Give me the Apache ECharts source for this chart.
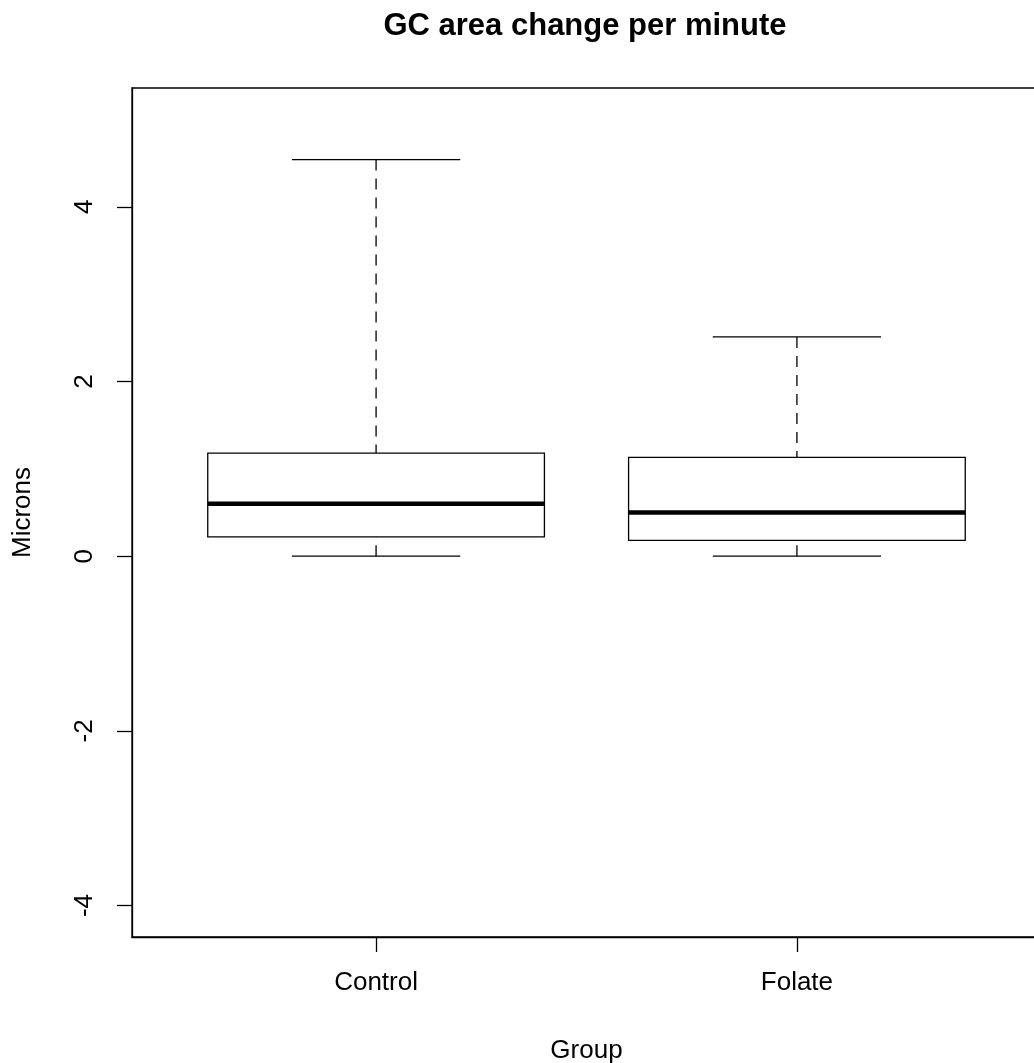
<!DOCTYPE html>
<html>
<head>
<meta charset="utf-8">
<title>GC area change per minute</title>
<script src="https://cdn.jsdelivr.net/npm/echarts@6.0.0/dist/echarts.min.js"></script>
<style>
  html, body { margin: 0; padding: 0; background: #fff; }
  #chart { width: 1034px; height: 1063px; }
</style>
</head>
<body>
<div id="chart"></div>
<script>
// box statistics
const groups = ["Control", "Folate"];
const whiskerLow = [0, 0];
const q1 = [0.22, 0.18];
const medians = [0.60, 0.50];
const q3 = [1.18, 1.13];
const whiskerHigh = [4.54, 2.51];
const yTicks = [-4, -2, 0, 2, 4];

const FONT = "Liberation Sans, Arial, sans-serif";

let boxData = groups.map(function (g, i) {
  return [i + 1, whiskerLow[i], q1[i], medians[i], q3[i], whiskerHigh[i]];
});

// draws one R style box: box, thick median, dashed whiskers, caps
function renderBox(params, api) {
  let x = api.value(0);
  let cx = api.coord([x, 0])[0];
  let left = api.coord([x - 0.4, 0])[0];
  let right = api.coord([x + 0.4, 0])[0];
  let capL = api.coord([x - 0.2, 0])[0];
  let capR = api.coord([x + 0.2, 0])[0];
  let yLo = api.coord([x, api.value(1)])[1];
  let yQ1 = api.coord([x, api.value(2)])[1];
  let yMed = api.coord([x, api.value(3)])[1];
  let yQ3 = api.coord([x, api.value(4)])[1];
  let yHi = api.coord([x, api.value(5)])[1];
  let thin = { stroke: "#000", lineWidth: 1.3 };
  let dashed = { stroke: "#000", lineWidth: 1.3, lineDash: [11, 8] };
  return {
    type: "group",
    children: [
      { type: "line", shape: { x1: cx, y1: yHi, x2: cx, y2: yQ3 }, style: dashed },
      { type: "line", shape: { x1: cx, y1: yLo, x2: cx, y2: yQ1 }, style: dashed },
      { type: "line", shape: { x1: capL, y1: yHi, x2: capR, y2: yHi }, style: thin },
      { type: "line", shape: { x1: capL, y1: yLo, x2: capR, y2: yLo }, style: thin },
      {
        type: "rect",
        shape: { x: left, y: yQ3, width: right - left, height: yQ1 - yQ3 },
        style: { fill: "#fff", stroke: "#000", lineWidth: 1.3 }
      },
      { type: "line", shape: { x1: left, y1: yMed, x2: right, y2: yMed }, style: { stroke: "#000", lineWidth: 4.5 } }
    ]
  };
}

let chart = echarts.init(document.getElementById("chart"));

let option = {
  backgroundColor: "#fff",
  animation: false,
  title: {
    text: "GC area change per minute",
    left: 580,
    top: 6,
    textAlign: "center",
    textStyle: { fontFamily: FONT, fontSize: 31, fontWeight: "bold", color: "#000", lineHeight: 31 }
  },
  grid: {
    left: 132,
    top: 88,
    right: -7,
    bottom: 126,
    outerBoundsMode: "none",
    containLabel: false,
    show: true,
    borderColor: "#000",
    borderWidth: 1.3,
    backgroundColor: "transparent"
  },
  xAxis: {
    type: "value",
    min: 0.42,
    max: 2.58,
    name: "Group",
    nameLocation: "middle",
    nameGap: 101,
    nameTextStyle: { fontFamily: FONT, fontSize: 26, color: "#000" },
    axisLine: { show: true, onZero: false, lineStyle: { color: "#000", width: 1.3 } },
    axisTick: { show: true, length: 15, customValues: [1, 2], lineStyle: { color: "#000", width: 1.3 } },
    axisLabel: {
      customValues: [1, 2],
      margin: 33,
      fontFamily: FONT,
      fontSize: 26,
      color: "#000",
      formatter: function (v) { return groups[Math.round(v) - 1]; }
    },
    splitLine: { show: false }
  },
  yAxis: {
    type: "value",
    min: -4.36,
    max: 5.36,
    name: "Microns",
    nameLocation: "middle",
    nameRotate: 90,
    nameGap: 96,
    nameTextStyle: { fontFamily: FONT, fontSize: 26, color: "#000" },
    axisLine: { show: true, onZero: false, lineStyle: { color: "#000", width: 1.3 } },
    axisTick: { show: true, length: 15, customValues: yTicks, lineStyle: { color: "#000", width: 1.3 } },
    axisLabel: {
      customValues: yTicks,
      rotate: 90,
      margin: 34,
      fontFamily: FONT,
      fontSize: 26,
      color: "#000"
    },
    splitLine: { show: false }
  },
  series: [
    {
      type: "custom",
      renderItem: renderBox,
      encode: { x: 0, y: [1, 2, 3, 4, 5] },
      data: boxData,
      clip: false
    }
  ]
};

chart.setOption(option);
window.onresize = chart.resize;
</script>
</body>
</html>
